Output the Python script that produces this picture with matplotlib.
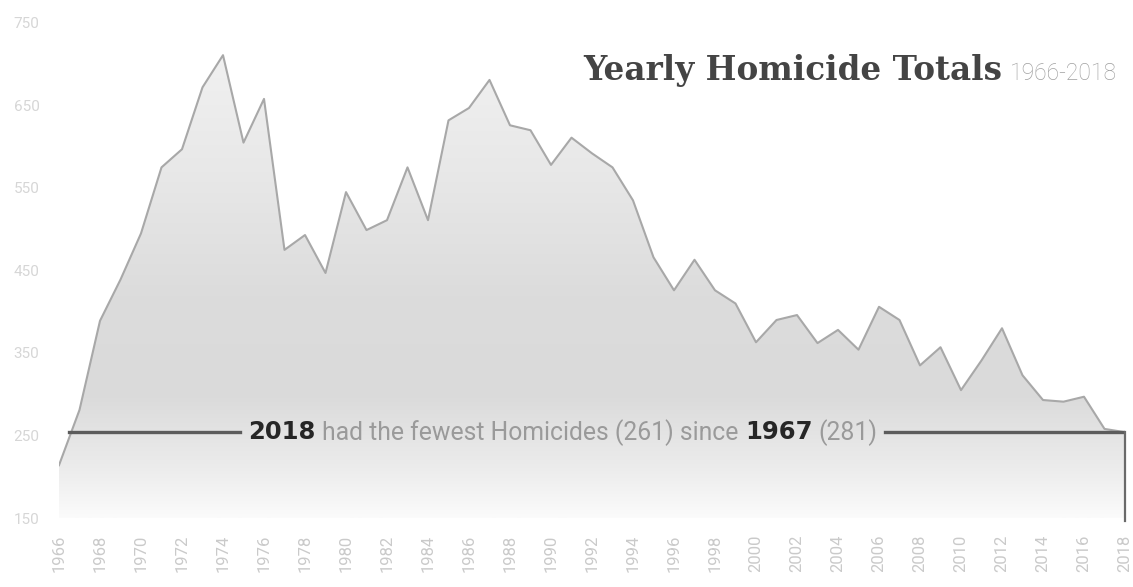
import matplotlib
matplotlib.use("Agg")
import matplotlib.pyplot as plt
import numpy as np
from matplotlib.colors import LinearSegmentedColormap
from matplotlib.patches import PathPatch

# yearly totals
years = list(range(1966, 2019))
homicides = [214, 281, 389, 439, 495, 575, 597, 672, 711, 605,
             658, 475, 493, 447, 545, 499, 511, 575, 511, 632,
             647, 681, 626, 620, 578, 611, 592, 575, 535, 466,
             426, 463, 426, 410, 363, 390, 396, 362, 378, 354,
             406, 390, 335, 357, 305, 341, 380, 323, 293, 291,
             297, 258, 254]
y_ticks = [150, 250, 350, 450, 550, 650, 750]
x_ticks = list(range(1966, 2019, 2))

title_main = "Yearly Homicide Totals"
title_years = "1966-2018"
note_parts = [("2018", "bold"), ("had the fewest Homicides (261) since", "gray"),
              ("1967", "bold"), ("(281)", "gray")]

W, H = 1133, 587
fig = plt.figure(figsize=(W / 100, H / 100), dpi=100)
ax = fig.add_axes([59 / W, 1 - 518 / H, (1125 - 59) / W, (518 - 23) / H])
ax.set_xlim(years[0], years[-1])
ax.set_ylim(y_ticks[0], y_ticks[-1])
for s in ax.spines.values():
    s.set_visible(False)

# gradient area, clipped to the filled polygon
poly = ax.fill_between(years, homicides, y_ticks[0], color="none", lw=0)
clip = PathPatch(poly.get_paths()[0], transform=ax.transData, fc="none", ec="none")
ax.add_patch(clip)
cmap = LinearSegmentedColormap.from_list("fade", [
    (0.0, "#fbfbfb"), (0.1, "#ececec"), (0.25, "#dadada"), (0.45, "#dcdcdc"),
    (0.7, "#e8e8e8"), (1.0, "#f3f3f3")])
grad = np.linspace(0, 1, 256).reshape(-1, 1)
im = ax.imshow(grad, cmap=cmap, origin="lower", aspect="auto", zorder=1,
               extent=[years[0], years[-1], y_ticks[0], y_ticks[-1]])
im.set_clip_path(clip)
ax.plot(years, homicides, color="#a8a8a8", lw=1.5, zorder=3)

ax.set_xticks(x_ticks)
ax.set_yticks(y_ticks)
ax.tick_params(axis="y", length=0, pad=14, labelcolor="#d6d6d6", labelsize=11)
ax.tick_params(axis="x", length=0, pad=12, labelcolor="#cacaca", labelsize=12,
               labelrotation=90)
for lab in ax.get_xticklabels() + ax.get_yticklabels():
    lab.set_fontfamily("Roboto")

fig.canvas.draw()
r = fig.canvas.get_renderer()
inv = ax.transData.inverted()

# annotation pieces laid out left to right in pixels
y_line = homicides[-1]
y_pix = ax.transData.transform((years[0], y_line))[1]
x_pix = 248
gaps = [7, 6, 6, 0]
bounds = []
for (txt, kind), gap in zip(note_parts, gaps):
    if kind == "bold":
        t = fig.text(x_pix / W, y_pix / H, txt, fontsize=17.5, fontweight="bold",
                     color="#262626", family="DejaVu Sans", va="center", ha="left")
    else:
        t = fig.text(x_pix / W, y_pix / H, txt, fontsize=17.8, color="#9a9a9a",
                     family="Roboto", va="center", ha="left")
    bb = t.get_window_extent(r)
    bounds.append(bb)
    x_pix = bb.x1 + gap
left_end = inv.transform((bounds[0].x0 - 8, y_pix))[0]
right_start = inv.transform((bounds[-1].x1 + 8, y_pix))[0]
ax.plot([years[0] + 0.5, left_end], [y_line, y_line], color="#5c5c5c", lw=2.4, zorder=4)
ax.plot([right_start, years[-1]], [y_line, y_line], color="#5c5c5c", lw=2.4, zorder=4)
ax.plot([years[-1], years[-1]], [y_line, y_ticks[0] - 4], color="#6a6a6a", lw=1.6,
        zorder=4, clip_on=False)

# title, right aligned
ty = 1 - 80 / H
t2 = fig.text(1117 / W, ty, title_years, fontsize=16.5, color="#a0a0a0",
              family="Roboto", fontweight="light", ha="right", va="baseline")
bb2 = t2.get_window_extent(r)
fig.text((bb2.x0 - 8) / W, ty, title_main, fontsize=23.5, color="#444444",
         family="DejaVu Serif", fontweight="bold", ha="right", va="baseline")

fig.savefig("out.png", dpi=100, facecolor="white")
